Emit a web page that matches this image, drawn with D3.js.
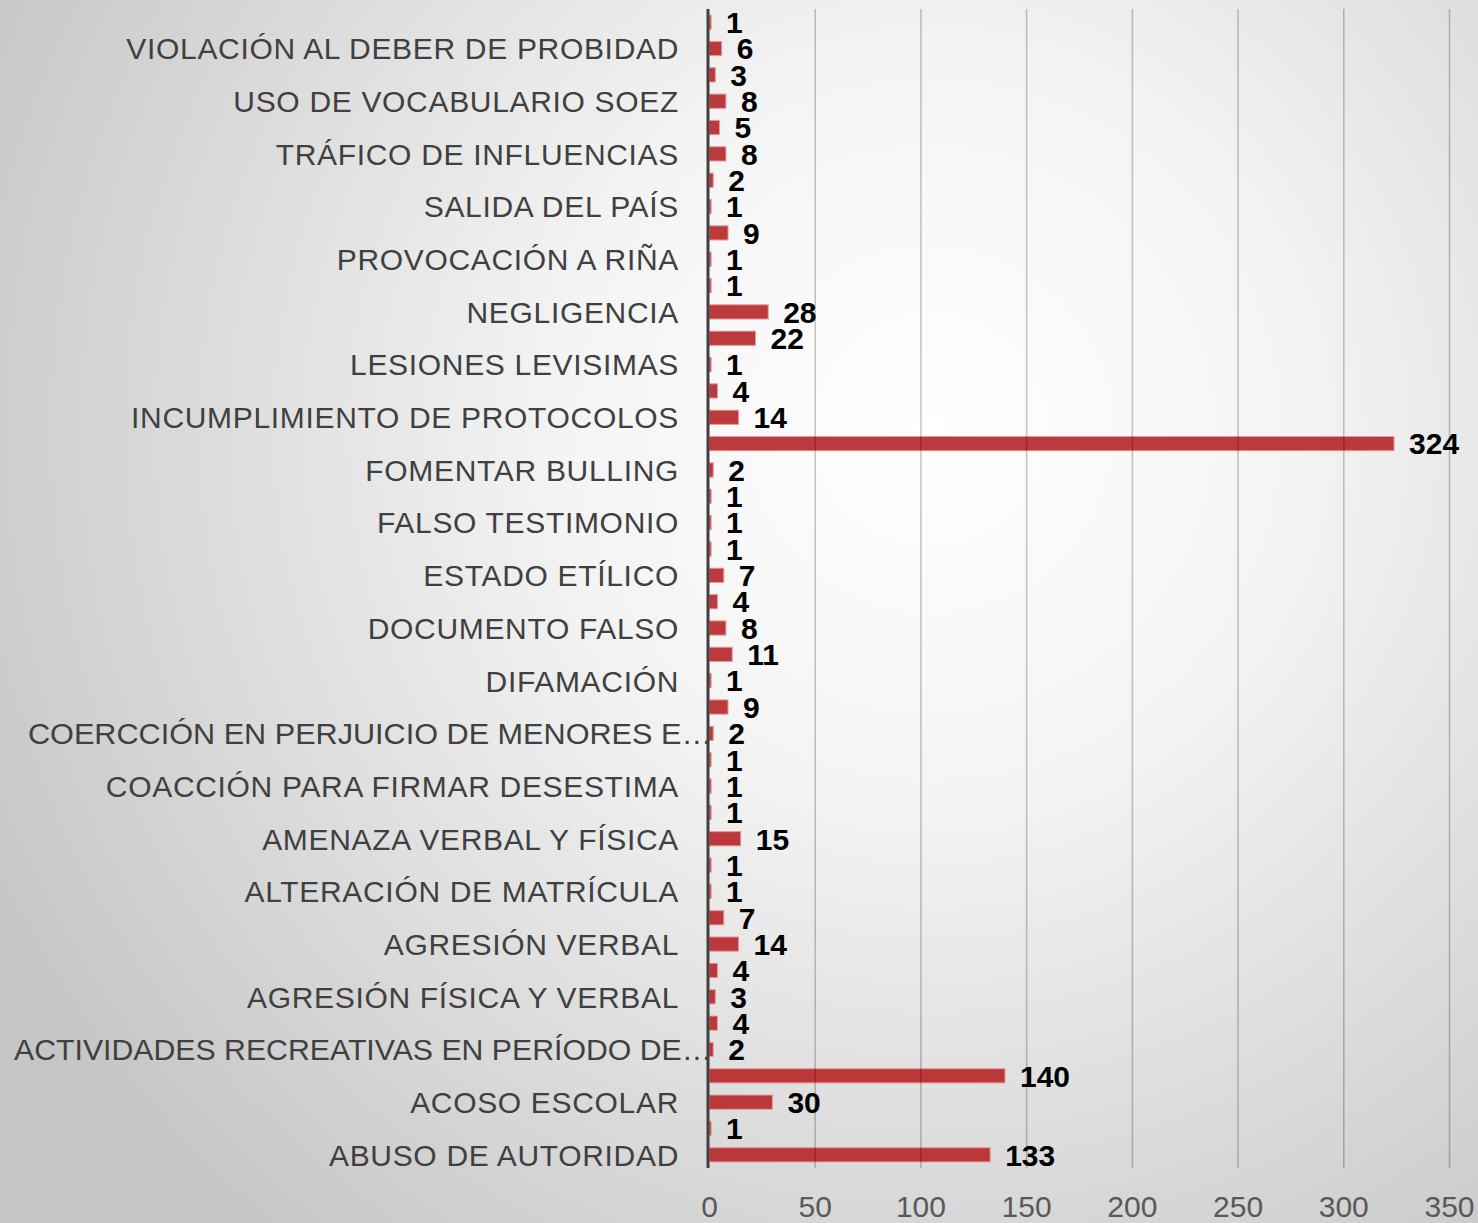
<!DOCTYPE html>
<html>
<head>
<meta charset="utf-8">
<script src="https://cdn.jsdelivr.net/npm/d3@7"></script>
<style>
  html, body { margin: 0; padding: 0; }
  body { width: 1478px; height: 1223px; overflow: hidden; }
  svg { display: block; }
</style>
</head>
<body>
<svg id="chart" width="1478" height="1223"></svg>
<script>
// Categories listed bottom-to-top; null = category whose label is not displayed
const categories = [
  "ABUSO DE AUTORIDAD", null,
  "ACOSO ESCOLAR", null,
  "ACTIVIDADES RECREATIVAS EN PERÍODO DE…", null,
  "AGRESIÓN FÍSICA Y VERBAL", null,
  "AGRESIÓN VERBAL", null,
  "ALTERACIÓN DE MATRÍCULA", null,
  "AMENAZA VERBAL Y FÍSICA", null,
  "COACCIÓN PARA FIRMAR DESESTIMA", null,
  "COERCCIÓN EN PERJUICIO DE MENORES E…", null,
  "DIFAMACIÓN", null,
  "DOCUMENTO FALSO", null,
  "ESTADO ETÍLICO", null,
  "FALSO TESTIMONIO", null,
  "FOMENTAR BULLING", null,
  "INCUMPLIMIENTO DE PROTOCOLOS", null,
  "LESIONES LEVISIMAS", null,
  "NEGLIGENCIA", null,
  "PROVOCACIÓN A RIÑA", null,
  "SALIDA DEL PAÍS", null,
  "TRÁFICO DE INFLUENCIAS", null,
  "USO DE VOCABULARIO SOEZ", null,
  "VIOLACIÓN AL DEBER DE PROBIDAD", null
];
const values = [
  133, 1,
  30, 140,
  2, 4,
  3, 4,
  14, 7,
  1, 1,
  15, 1,
  1, 1,
  2, 9,
  1, 11,
  8, 4,
  7, 1,
  1, 1,
  2, 324,
  14, 4,
  1, 22,
  28, 1,
  1, 9,
  1, 2,
  8, 5,
  8, 3,
  6, 1
];
const xTicks = [0, 50, 100, 150, 200, 250, 300, 350];

const svg = d3.select("#chart");
const W = 1478, H = 1223;

// background radial gradient
const defs = svg.append("defs");
const rg = defs.append("radialGradient").attr("id", "bg")
  .attr("gradientUnits", "userSpaceOnUse")
  .attr("cx", 930).attr("cy", 430).attr("r", 1050);
rg.append("stop").attr("offset", "0%").attr("stop-color", "#ffffff");
rg.append("stop").attr("offset", "35%").attr("stop-color", "#f4f4f4");
rg.append("stop").attr("offset", "100%").attr("stop-color", "#c6c6c6");
svg.append("rect").attr("width", W).attr("height", H).attr("fill", "url(#bg)");

const idx = d3.range(values.length);
const x = d3.scaleLinear().domain([0, 350]).range([709, 1449]);
const y = d3.scaleBand().domain(idx).range([1168, 9]).paddingInner(0.46).paddingOuter(0.23);

// bars
svg.append("g").selectAll("rect").data(idx).join("rect")
  .attr("x", x(0))
  .attr("y", i => y(i))
  .attr("width", i => x(values[i]) - x(0))
  .attr("height", y.bandwidth())
  .attr("fill", "#b72a2d")
  .attr("fill-opacity", 0.93)
  .attr("stroke", "#e89a9b")
  .attr("stroke-width", 1);

// gridlines (on top, translucent)
const xAxis = d3.axisBottom(x).tickValues(xTicks).tickSize(-(1168 - 9)).tickFormat(d3.format("d"));
const gx = svg.append("g").attr("transform", "translate(0,1168)").call(xAxis);
gx.select(".domain").remove();
gx.selectAll(".tick line").attr("stroke", "rgba(0,0,0,0.22)").attr("stroke-width", 1.6)
  .filter(d => d === 0).remove();
gx.selectAll(".tick text")
  .attr("y", 49)
  .attr("dy", 0)
  .attr("fill", "#595959")
  .style("font-family", "'Liberation Sans', Arial, sans-serif")
  .style("font-size", "30px");

// vertical axis line
svg.append("line").attr("x1", 708).attr("x2", 708).attr("y1", 9).attr("y2", 1168)
  .attr("stroke", "#404040").attr("stroke-width", 3);

// category labels
const catFont = "'Liberation Sans', Arial, sans-serif";
const yAxis = d3.axisLeft(y).tickSize(0).tickPadding(0).tickFormat(i => categories[i] || "");
const gy = svg.append("g").attr("transform", "translate(679,0)").call(yAxis);
gy.select(".domain").remove();
const catTexts = gy.selectAll(".tick text")
  .attr("x", 0)
  .attr("dy", "0.36em")
  .attr("fill", "#404040")
  .style("font-family", catFont)
  .style("font-size", "30px");
// fit letter spacing to reference width of the longest untruncated label
let refNode = null;
catTexts.each(function(i) { if (categories[i] === "VIOLACIÓN AL DEBER DE PROBIDAD") refNode = this; });
if (refNode) {
  const w = refNode.getComputedTextLength();
  const n = categories[42].length;
  const ls = (552 - w) / (n - 1);
  catTexts.style("letter-spacing", ls + "px");
}
// truncated labels: fixed widths as seen in the reference
const truncWidth = { 4: 698, 16: 684 };
catTexts.filter(i => categories[i] && categories[i].endsWith("…"))
  .attr("x", 33)
  .style("letter-spacing", "0px")
  .attr("textLength", i => truncWidth[i])
  .attr("lengthAdjust", "spacingAndGlyphs");

// value labels
svg.append("g").selectAll("text").data(idx).join("text")
  .attr("x", i => x(values[i]) + 15)
  .attr("y", i => y(i) + y.bandwidth() / 2)
  .attr("dy", "0.36em")
  .attr("fill", "#000")
  .style("font-family", "'Liberation Sans', Arial, sans-serif")
  .style("font-weight", "bold")
  .style("font-size", "30px")
  .text(i => values[i]);
</script>
</body>
</html>
